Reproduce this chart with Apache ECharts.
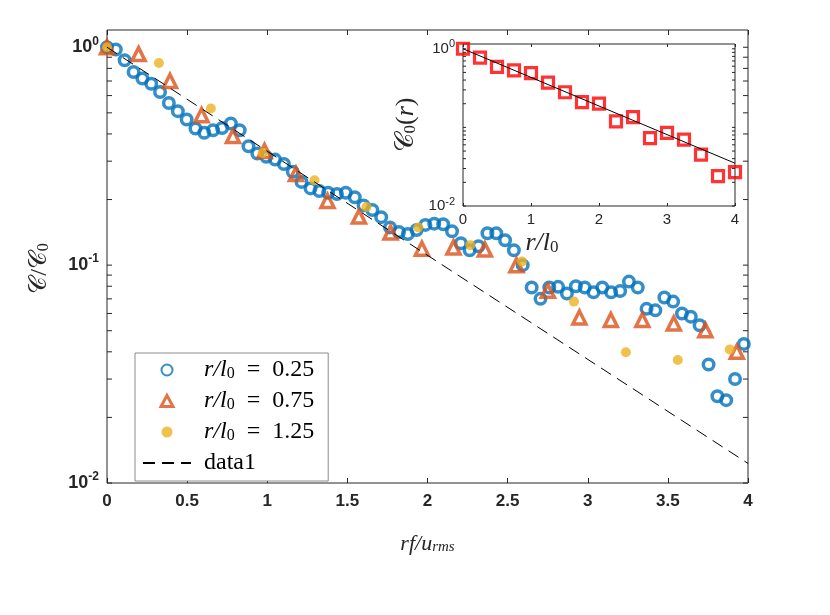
<!DOCTYPE html>
<html>
<head>
<meta charset="utf-8">
<script src="https://cdn.jsdelivr.net/npm/echarts@6/dist/echarts.min.js"></script>
<style>
  html, body { margin: 0; padding: 0; background: #fff; }
  #chart { width: 830px; height: 615px; }
</style>
</head>
<body>
<div id="chart"></div>
<script>
// r/l0 = 0.25 (blue open circles)
var blueX = [0, 0.055, 0.110, 0.166, 0.221, 0.276, 0.331, 0.386, 0.442, 0.497,
    0.552, 0.607, 0.662, 0.718, 0.773, 0.828, 0.883, 0.938, 0.994, 1.049,
    1.104, 1.159, 1.214, 1.270, 1.325, 1.380, 1.435, 1.490, 1.546, 1.601,
    1.656, 1.711, 1.766, 1.822, 1.877, 1.932, 1.987, 2.042, 2.098, 2.153,
    2.208, 2.263, 2.318, 2.374, 2.429, 2.484, 2.539, 2.594, 2.650, 2.705,
    2.760, 2.815, 2.870, 2.926, 2.981, 3.036, 3.091, 3.146, 3.202, 3.257,
    3.312, 3.367, 3.422, 3.478, 3.533, 3.588, 3.643, 3.698, 3.754, 3.809,
    3.864, 3.919, 3.974];
var blueY = [1.0, 0.976, 0.872, 0.77, 0.718, 0.68, 0.623, 0.555, 0.509, 0.466,
    0.424, 0.405, 0.416, 0.426, 0.447, 0.416, 0.351, 0.325, 0.314, 0.305,
    0.291, 0.268, 0.241, 0.225, 0.219, 0.215, 0.212, 0.215, 0.205, 0.188,
    0.179, 0.166, 0.149, 0.142, 0.139, 0.145, 0.153, 0.155, 0.154, 0.143,
    0.126, 0.117, 0.122, 0.140, 0.140, 0.130, 0.117, 0.100, 0.079, 0.070,
    0.079, 0.0795, 0.074, 0.080, 0.079, 0.075, 0.079, 0.075, 0.076, 0.084,
    0.079, 0.063, 0.062, 0.071, 0.068, 0.060, 0.058, 0.053, 0.035, 0.025,
    0.024, 0.030, 0.0435];

// r/l0 = 0.75 (orange open triangles)
var triX = [0, 0.197, 0.393, 0.59, 0.786, 0.983, 1.179, 1.376, 1.572, 1.769,
    1.965, 2.162, 2.358, 2.555, 2.751, 2.948, 3.144, 3.341, 3.537, 3.734, 3.93];
var triY = [1.0, 0.93, 0.70, 0.488, 0.391, 0.334, 0.262, 0.197, 0.167, 0.141,
    0.119, 0.1206, 0.118, 0.100, 0.0762, 0.0575, 0.056, 0.056, 0.054, 0.0503, 0.040];

// r/l0 = 1.25 (yellow dots)
var dotX = [0, 0.324, 0.648, 0.971, 1.295, 1.619, 1.943, 2.267, 2.59, 2.914, 3.238, 3.562, 3.886];
var dotY = [1.0, 0.847, 0.523, 0.327, 0.245, 0.185, 0.149, 0.1235, 0.104, 0.068, 0.0398, 0.0367, 0.041];

// data1 (dashed reference line)
var refX = [0, 4];
var refY = [1.0, 0.0123];

// inset C0(r)
var insetX = [0, 0.25, 0.5, 0.75, 1, 1.25, 1.5, 1.75, 2, 2.25, 2.5, 2.75, 3, 3.25, 3.5, 3.75, 4];
var insetY = [1.0, 0.77, 0.59, 0.53, 0.49, 0.37, 0.28, 0.21, 0.20, 0.119, 0.135, 0.073, 0.085, 0.070, 0.045, 0.024, 0.027];
var insetFitX = [0, 4];
var insetFitY = [1.0, 0.035];

// log tick positions (majors + minors)
var logTicks = [0.01, 0.02, 0.03, 0.04, 0.05, 0.06, 0.07, 0.08, 0.09,
    0.1, 0.2, 0.3, 0.4, 0.5, 0.6, 0.7, 0.8, 0.9, 1];

function zip(xs, ys) {
    var out = [];
    for (var i = 0; i < xs.length; i++) out.push([xs[i], ys[i]]);
    return out;
}

var axisColor = '#262626';
var serif = "'Liberation Serif', 'DejaVu Serif', serif";
var sans = "'Liberation Sans', Arial, sans-serif";

function isPow10(v) {
    var e = Math.log10(v);
    return Math.abs(e - Math.round(e)) < 1e-6;
}
function powLabel(v) {
    if (!isPow10(v)) return '';
    return '{b|10}{s|' + Math.round(Math.log10(v)) + '}';
}

// little tick marks on both sides of a log axis
function logTickItem(xmin, xmax, len) {
    return function (params, api) {
        var v = api.value(1);
        var pl = api.coord([xmin, v]);
        var pr = api.coord([xmax, v]);
        return {
            type: 'group',
            children: [
                {type: 'line', shape: {x1: pl[0], y1: pl[1], x2: pl[0] + len, y2: pl[1]},
                    style: {stroke: axisColor, lineWidth: 1}},
                {type: 'line', shape: {x1: pr[0], y1: pr[1], x2: pr[0] - len, y2: pr[1]},
                    style: {stroke: axisColor, lineWidth: 1}}
            ]
        };
    };
}

var legendRich = {
    i: {fontFamily: serif, fontStyle: 'italic', fontSize: 24, color: '#000'},
    sub: {fontFamily: serif, fontSize: 16, color: '#000', verticalAlign: 'bottom', lineHeight: 16},
    n: {fontFamily: serif, fontSize: 24, color: '#000'},
    p: {width: 8}
};

var dom = document.getElementById('chart');
var myChart = echarts.init(dom);

var option = {
    animation: false,
    backgroundColor: '#fff',
    grid: [
        {left: 107, top: 30, width: 641, height: 453, show: true,
            borderColor: axisColor, borderWidth: 1, backgroundColor: '#fff'},
        {left: 463, top: 44, width: 272, height: 162, show: true,
            borderColor: axisColor, borderWidth: 1, backgroundColor: '#fff'}
    ],
    legend: {
        orient: 'vertical',
        left: 135,
        top: 353,
        padding: [5, 14, 6, 7],
        itemGap: 7,
        itemWidth: 48,
        itemHeight: 11,
        symbolKeepAspect: true,
        backgroundColor: '#fff',
        borderColor: '#8c8c8c',
        borderWidth: 1,
        data: [
            'r/l0 = 0.25',
            {name: 'r/l0 = 0.75', icon: 'path://M6,0 L12,11 L0,11 Z',
                itemStyle: {borderWidth: 3}},
            'r/l0 = 1.25',
            {name: 'data1', itemStyle: {color: 'rgba(0,0,0,0)', borderWidth: 0, opacity: 0}}
        ],
        formatter: function (name) {
            if (name.indexOf('r/l0') === 0) {
                return '{p|}{i|r/l}{sub|0}{n|  =  ' + name.split('= ')[1] + '}';
            }
            return '{p|}{n|' + name + '}';
        },
        textStyle: {rich: legendRich, lineHeight: 24}
    },
    xAxis: [
        {
            gridIndex: 0, type: 'value', min: 0, max: 4, interval: 0.5,
            axisLine: {show: false},
            axisTick: {inside: true, length: 5, lineStyle: {color: axisColor}},
            splitLine: {show: false},
            axisLabel: {margin: 10, color: axisColor, fontSize: 17, fontWeight: 'bold', fontFamily: sans},
            name: '{i|rf/u}{sub|rms}',
            nameLocation: 'middle',
            nameGap: 50,
            nameTextStyle: {
                rich: {
                    i: {fontFamily: serif, fontStyle: 'italic', fontSize: 22, color: axisColor},
                    sub: {fontFamily: serif, fontStyle: 'italic', fontSize: 15, color: axisColor,
                        verticalAlign: 'bottom', lineHeight: 15}
                }
            }
        },
        {
            gridIndex: 0, type: 'value', min: 0, max: 4, interval: 0.5, position: 'top',
            axisLine: {show: false},
            axisTick: {inside: true, length: 5, lineStyle: {color: axisColor}},
            splitLine: {show: false},
            axisLabel: {show: false}
        },
        {
            gridIndex: 1, type: 'value', min: 0, max: 4, interval: 1,
            axisLine: {show: false},
            axisTick: {inside: true, length: 3, lineStyle: {color: axisColor}},
            splitLine: {show: false},
            axisLabel: {margin: 6, color: axisColor, fontSize: 15, fontFamily: sans},
            name: '{i|r/l}{sub|0}',
            nameLocation: 'middle',
            nameGap: 24,
            nameTextStyle: {
                padding: [0, 114, 0, 0],
                rich: {
                    i: {fontFamily: serif, fontStyle: 'italic', fontSize: 26, color: axisColor},
                    sub: {fontFamily: serif, fontSize: 17, color: axisColor,
                        verticalAlign: 'bottom', lineHeight: 17}
                }
            }
        },
        {
            gridIndex: 1, type: 'value', min: 0, max: 4, interval: 1, position: 'top',
            axisLine: {show: false},
            axisTick: {inside: true, length: 3, lineStyle: {color: axisColor}},
            splitLine: {show: false},
            axisLabel: {show: false}
        }
    ],
    yAxis: [
        {
            gridIndex: 0, type: 'log', logBase: 10, min: 0.01, max: 1.2,
            axisLine: {show: false},
            axisTick: {show: false},
            splitLine: {show: false},
            axisLabel: {
                margin: 8,
                showMaxLabel: false,
                formatter: powLabel,
                rich: {
                    b: {fontSize: 18, fontWeight: 'bold', color: axisColor, lineHeight: 24, fontFamily: sans},
                    s: {fontSize: 12, fontWeight: 'bold', color: axisColor, lineHeight: 12,
                        verticalAlign: 'top', fontFamily: sans}
                }
            },
            name: '{c|\uD835\uDC9E/\uD835\uDC9E}{sub|0}',
            nameLocation: 'middle',
            nameGap: 55,
            nameTextStyle: {
                padding: [0, 24, 0, 0],
                rich: {
                    c: {fontFamily: serif, fontSize: 24, color: axisColor},
                    sub: {fontFamily: serif, fontSize: 16, color: axisColor,
                        verticalAlign: 'bottom', lineHeight: 16}
                }
            }
        },
        {
            gridIndex: 1, type: 'log', logBase: 10, min: 0.01, max: 1.15,
            axisLine: {show: false},
            axisTick: {show: false},
            splitLine: {show: false},
            axisLabel: {
                margin: 8,
                showMaxLabel: false,
                formatter: function (v) {
                    return (Math.abs(v - 0.1) < 1e-9) ? '' : powLabel(v);
                },
                rich: {
                    b: {fontSize: 15, color: axisColor, lineHeight: 20, fontFamily: sans},
                    s: {fontSize: 11, color: axisColor, lineHeight: 11,
                        verticalAlign: 'top', fontFamily: sans}
                }
            },
            name: '{c|\uD835\uDC9E}{sub|0}{n|(}{i|r}{n|)}',
            nameLocation: 'middle',
            nameGap: 44,
            nameTextStyle: {
                rich: {
                    c: {fontFamily: serif, fontSize: 26, color: axisColor},
                    sub: {fontFamily: serif, fontSize: 17, color: axisColor,
                        verticalAlign: 'bottom', lineHeight: 17},
                    n: {fontFamily: serif, fontSize: 26, color: axisColor},
                    i: {fontFamily: serif, fontStyle: 'italic', fontSize: 26, color: axisColor}
                }
            }
        }
    ],
    series: [
        {
            name: 'r/l0 = 0.25', type: 'scatter', xAxisIndex: 0, yAxisIndex: 0,
            symbol: 'circle', symbolSize: 10.5,
            itemStyle: {color: 'rgba(0,0,0,0)', borderColor: '#0072BD', borderWidth: 3.5},
            emphasis: {disabled: true},
            data: zip(blueX, blueY)
        },
        {
            name: 'r/l0 = 0.75', type: 'scatter', xAxisIndex: 0, yAxisIndex: 0,
            symbol: 'triangle', symbolSize: 13, symbolKeepAspect: true,
            itemStyle: {color: 'rgba(0,0,0,0)', borderColor: '#D95319', borderWidth: 3.5},
            emphasis: {disabled: true},
            data: zip(triX, triY)
        },
        {
            name: 'r/l0 = 1.25', type: 'scatter', xAxisIndex: 0, yAxisIndex: 0,
            symbol: 'circle', symbolSize: 10,
            itemStyle: {color: '#EDB120'},
            emphasis: {disabled: true},
            data: zip(dotX, dotY)
        },
        {
            name: 'data1', type: 'line', xAxisIndex: 0, yAxisIndex: 0,
            symbol: 'none', showSymbol: false,
            lineStyle: {color: '#000', width: 1, type: [12, 7]},
            itemStyle: {color: '#000'},
            emphasis: {disabled: true},
            data: zip(refX, refY)
        },
        {
            name: 'mainTicks', type: 'custom', xAxisIndex: 0, yAxisIndex: 0,
            silent: true,
            renderItem: logTickItem(0, 4, 5),
            data: logTicks.map(function (v) { return [0, v]; })
        },
        {
            name: 'C0', type: 'scatter', xAxisIndex: 2, yAxisIndex: 1,
            symbol: 'rect', symbolSize: 11,
            itemStyle: {color: 'rgba(0,0,0,0)', borderColor: '#FF0000', borderWidth: 3.2},
            emphasis: {disabled: true},
            data: zip(insetX, insetY)
        },
        {
            name: 'C0fit', type: 'line', xAxisIndex: 2, yAxisIndex: 1,
            symbol: 'none', showSymbol: false,
            lineStyle: {color: '#000', width: 1},
            emphasis: {disabled: true},
            data: zip(insetFitX, insetFitY)
        },
        {
            name: 'insetTicks', type: 'custom', xAxisIndex: 2, yAxisIndex: 1,
            silent: true,
            renderItem: logTickItem(0, 4, 3),
            data: logTicks.map(function (v) { return [0, v]; })
        }
    ]
};
myChart.setOption(option);
</script>
</body>
</html>
